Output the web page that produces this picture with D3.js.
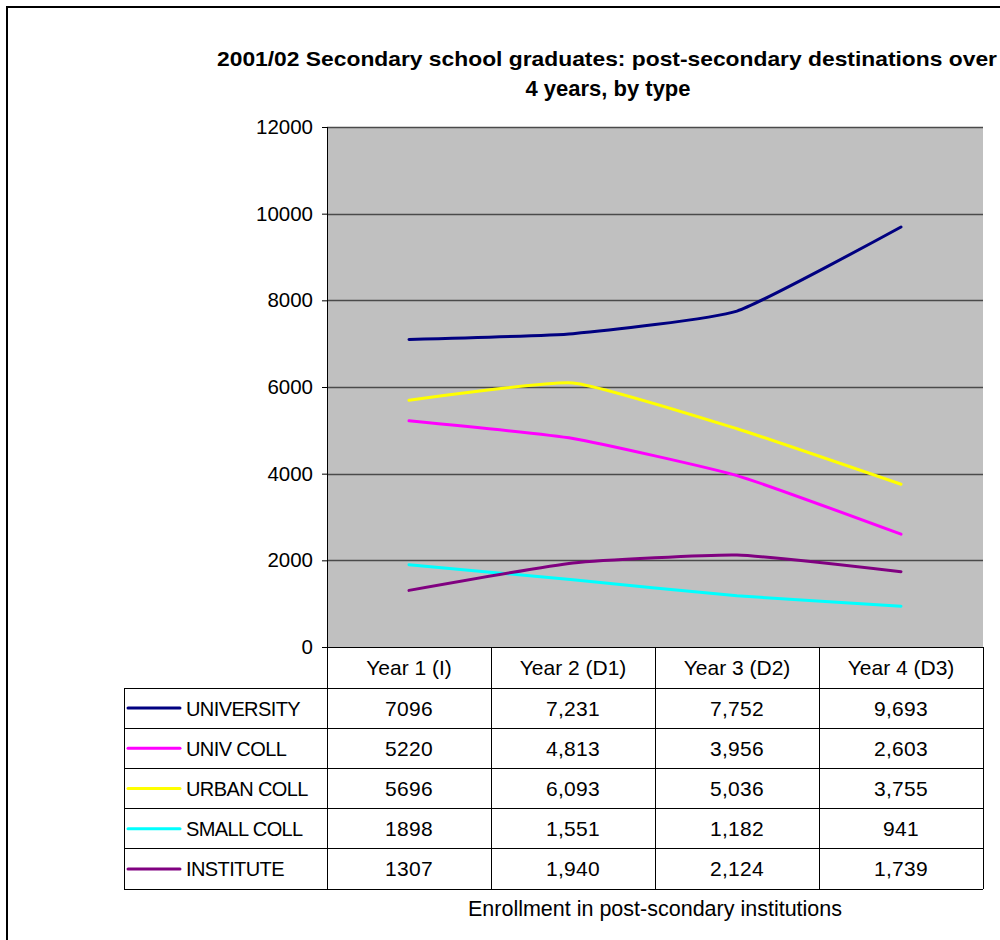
<!DOCTYPE html>
<html>
<head>
<meta charset="utf-8">
<script src="https://cdnjs.cloudflare.com/ajax/libs/d3/7.8.5/d3.min.js"></script>
<style>
  html, body { margin: 0; padding: 0; background: #fff; }
  svg { display: block; font-family: "Liberation Sans", Arial, sans-serif; }
</style>
</head>
<body>
<svg id="chart" width="1000" height="940"></svg>
<script>
// Enrollment data: 2001/02 secondary school graduates by destination type
const years = ["Year 1 (I)", "Year 2 (D1)", "Year 3 (D2)", "Year 4 (D3)"];
const seriesNames = ["UNIVERSITY", "UNIV COLL", "URBAN COLL", "SMALL COLL", "INSTITUTE"];
const university = [7096, 7231, 7752, 9693];
const univColl   = [5220, 4813, 3956, 2603];
const urbanColl  = [5696, 6093, 5036, 3755];
const smallColl  = [1898, 1551, 1182, 941];
const institute  = [1307, 1940, 2124, 1739];
const seriesColors = ["#000080", "#FF00FF", "#FFFF00", "#00FFFF", "#800080"];
const yTicks = [0, 2000, 4000, 6000, 8000, 10000, 12000];
const titleLines = ["2001/02 Secondary school graduates: post-secondary destinations over", "4 years, by type"];
const xTitle = "Enrollment in post-scondary institutions";

const seriesValues = [university, univColl, urbanColl, smallColl, institute];
const series = seriesNames.map((name, i) => ({ name, color: seriesColors[i], values: seriesValues[i] }));

const svg = d3.select("#chart");

// Plot geometry
const plot = { left: 327, right: 983, top: 127, bottom: 647 };
const table = { left: 124, top: 688, bottom: 889 };

// Outer chart frame
svg.append("rect")
  .attr("x", 7).attr("y", 7)
  .attr("width", 1100).attr("height", 1100)
  .attr("fill", "none").attr("stroke", "#000").attr("stroke-width", 2);

// Title
const title = svg.append("text")
  .attr("text-anchor", "middle")
  .attr("font-weight", "bold")
  .attr("fill", "#000");
title.append("tspan").attr("x", 607).attr("y", 66).attr("font-size", 21).text(titleLines[0])
  .attr("textLength", 780).attr("lengthAdjust", "spacingAndGlyphs");
title.append("tspan").attr("x", 608).attr("y", 96).attr("font-size", 22).text(titleLines[1]);

// Scales
const x = d3.scaleBand().domain(years).range([plot.left, plot.right]).padding(0);
const y = d3.scaleLinear().domain([0, 12000]).range([plot.bottom, plot.top]);
const row = d3.scaleBand().domain(seriesNames).range([table.top, table.bottom]);

// Plot background
svg.append("rect")
  .attr("x", plot.left).attr("y", plot.top)
  .attr("width", plot.right - plot.left).attr("height", plot.bottom - plot.top)
  .attr("fill", "#C0C0C0");

// Horizontal gridlines
svg.append("g").selectAll("line").data(yTicks.filter(d => d > 0)).join("line")
  .attr("x1", plot.left).attr("x2", plot.right)
  .attr("y1", d => Math.round(y(d)) + 0.5).attr("y2", d => Math.round(y(d)) + 0.5)
  .attr("stroke", "#4a4a4a").attr("stroke-width", 1.4);

// Y axis
const yAxis = svg.append("g")
  .attr("transform", `translate(${plot.left},0)`)
  .call(d3.axisLeft(y).tickValues(yTicks).tickFormat(d3.format("d")).tickSize(5).tickPadding(9));
yAxis.select(".domain").remove();
yAxis.selectAll(".tick line").attr("stroke", "#000");
yAxis.selectAll(".tick text")
  .attr("font-family", "Liberation Sans, Arial, sans-serif")
  .attr("font-size", 20.5).attr("fill", "#000");

// Series lines (smoothed)
const line = d3.line()
  .x((d, i) => x(years[i]) + x.bandwidth() / 2)
  .y(d => y(d))
  .curve(d3.curveCardinal.tension(0.55));

svg.append("g").selectAll("path").data(series).join("path")
  .attr("d", d => line(d.values))
  .attr("fill", "none")
  .attr("stroke", d => d.color)
  .attr("stroke-width", 3)
  .attr("stroke-linejoin", "round")
  .attr("stroke-linecap", "round");

// Data table grid
const grid = svg.append("g").attr("stroke", "#000").attr("stroke-width", 1).attr("shape-rendering", "crispEdges");
// axis line and column separators
const colEdges = years.map(d => x(d)).concat([plot.right]);
grid.selectAll("line.col").data(colEdges).join("line")
  .attr("class", "col")
  .attr("x1", d => d).attr("x2", d => d)
  .attr("y1", (d, i) => i === 0 ? plot.top : plot.bottom)
  .attr("y2", table.bottom);
// left edge of legend column
grid.append("line")
  .attr("x1", table.left).attr("x2", table.left)
  .attr("y1", table.top).attr("y2", table.bottom);
// top of category header row (zero line)
grid.append("line")
  .attr("x1", plot.left).attr("x2", plot.right)
  .attr("y1", plot.bottom).attr("y2", plot.bottom);
// row separators
const rowEdges = seriesNames.map(d => row(d)).concat([table.bottom]);
grid.selectAll("line.row").data(rowEdges).join("line")
  .attr("class", "row")
  .attr("x1", table.left).attr("x2", plot.right)
  .attr("y1", d => d).attr("y2", d => d);

// Category header labels
svg.append("g").selectAll("text").data(years).join("text")
  .attr("x", d => x(d) + x.bandwidth() / 2)
  .attr("y", (plot.bottom + table.top) / 2 + 7.5)
  .attr("text-anchor", "middle")
  .attr("font-size", 21)
  .attr("fill", "#000")
  .text(d => d);

// Legend keys and series names
const rows = svg.append("g").selectAll("g").data(series).join("g")
  .attr("transform", d => `translate(0,${row(d.name) + row.bandwidth() / 2})`);
rows.append("line")
  .attr("x1", 128).attr("x2", 180)
  .attr("y1", 0).attr("y2", 0)
  .attr("stroke", d => d.color).attr("stroke-width", 3).attr("stroke-linecap", "round");
rows.append("text")
  .attr("x", 186).attr("y", 7.5)
  .attr("font-size", 20).attr("letter-spacing", -0.6)
  .attr("fill", "#000")
  .text(d => d.name);

// Values in table cells
const fmtFirst = d3.format("d");
const fmtRest = d3.format(",");
rows.selectAll("text.val").data(d => d.values).join("text")
  .attr("class", "val")
  .attr("x", (v, i) => x(years[i]) + x.bandwidth() / 2)
  .attr("y", 7.5)
  .attr("text-anchor", "middle")
  .attr("font-size", 21).attr("letter-spacing", 0.3)
  .attr("fill", "#000")
  .text((v, i) => i === 0 ? fmtFirst(v) : fmtRest(v));

// Horizontal axis title
svg.append("text")
  .attr("x", (plot.left + plot.right) / 2)
  .attr("y", 916)
  .attr("text-anchor", "middle")
  .attr("font-size", 21.5)
  .attr("fill", "#000")
  .text(xTitle);
</script>
</body>
</html>
